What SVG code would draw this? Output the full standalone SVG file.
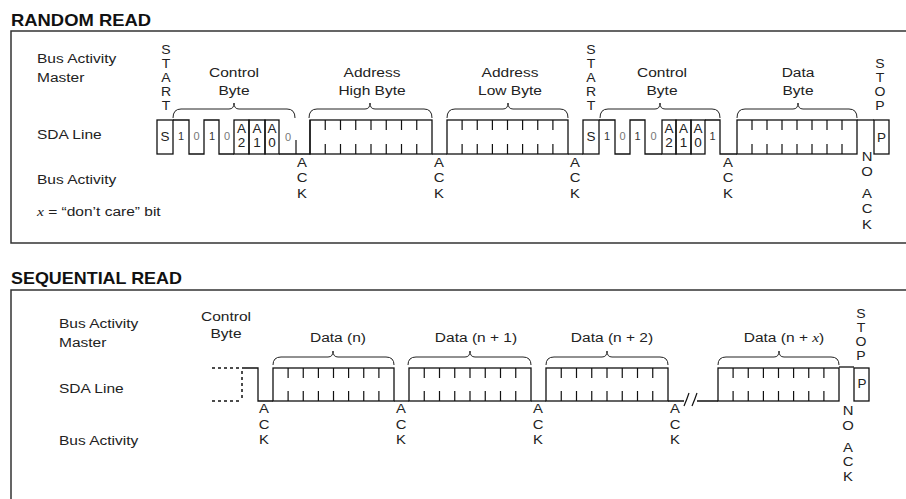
<svg xmlns="http://www.w3.org/2000/svg" width="906" height="499" viewBox="0 0 906 499">
<style>
.t{font-family:"Liberation Sans",Arial,sans-serif;font-size:13.5px;fill:#222}
.m{text-anchor:middle}
.v{font-size:12.2px}
.ttl{font-family:"Liberation Sans",Arial,sans-serif;font-size:16.3px;font-weight:bold;fill:#111}
.b{font-family:"Liberation Sans",Arial,sans-serif;font-size:11px;fill:#333;text-anchor:middle}
.z{fill:#777}
.sx{font-family:"Liberation Serif","Times New Roman",serif;font-style:italic}
.w{fill:none;stroke:#111;stroke-width:1.3}
.tk{fill:none;stroke:#111;stroke-width:1.2}
.fr{fill:none;stroke:#333;stroke-width:1.5}
.br{fill:none;stroke:#222;stroke-width:1}
.dot{fill:none;stroke:#111;stroke-width:1.5;stroke-dasharray:3 3}
</style>
<defs>
<path id="tkR" d="M0 120v10M0 144v10"/>
<path id="tkS" d="M0 368v10M0 391v10"/>
</defs>

<!-- ================= RANDOM READ ================= -->
<g id="random-read">
<text class="ttl" transform="translate(11 26) scale(1.13 1)">RANDOM READ</text>
<path class="fr" d="M912 31H11V243H912"/>

<g id="rr-labels">
<text class="t" transform="translate(37 63) scale(1.15 1)">Bus Activity</text>
<text class="t" transform="translate(37 82) scale(1.15 1)">Master</text>
<text class="t" transform="translate(37 139) scale(1.15 1)">SDA Line</text>
<text class="t" transform="translate(37 184) scale(1.15 1)">Bus Activity</text>
<text class="t" transform="translate(37 216) scale(1.15 1)"><tspan class="sx">x</tspan> = “don’t care” bit</text>
</g>

<g id="rr-top-labels">
<text class="t m" transform="translate(234 0) scale(1.15 1)"><tspan x="0" y="77">Control</tspan><tspan x="0" y="95">Byte</tspan></text>
<text class="t m" transform="translate(372 0) scale(1.15 1)"><tspan x="0" y="77">Address</tspan><tspan x="0" y="95">High Byte</tspan></text>
<text class="t m" transform="translate(510 0) scale(1.15 1)"><tspan x="0" y="77">Address</tspan><tspan x="0" y="95">Low Byte</tspan></text>
<text class="t m" transform="translate(662 0) scale(1.15 1)"><tspan x="0" y="77">Control</tspan><tspan x="0" y="95">Byte</tspan></text>
<text class="t m" transform="translate(798 0) scale(1.15 1)"><tspan x="0" y="77">Data</tspan><tspan x="0" y="95">Byte</tspan></text>
<text class="t m v" transform="translate(166 0) scale(1.15 1)"><tspan x="0" y="54">S</tspan><tspan x="0" y="68">T</tspan><tspan x="0" y="82">A</tspan><tspan x="0" y="96">R</tspan><tspan x="0" y="110">T</tspan></text>
<text class="t m v" transform="translate(591 0) scale(1.15 1)"><tspan x="0" y="54">S</tspan><tspan x="0" y="68">T</tspan><tspan x="0" y="82">A</tspan><tspan x="0" y="96">R</tspan><tspan x="0" y="110">T</tspan></text>
<text class="t m v" transform="translate(880 0) scale(1.15 1)"><tspan x="0" y="68">S</tspan><tspan x="0" y="82">T</tspan><tspan x="0" y="96">O</tspan><tspan x="0" y="110">P</tspan></text>
</g>

<g id="rr-braces">
<path class="br" d="M173 118Q173 109 181 109H229Q234 109 234 103Q234 109 239 109H287Q295 109 295 118"/>
<path class="br" d="M309 118Q309 109 317 109H365Q370 109 370 103Q370 109 375 109H424Q432 109 432 118"/>
<path class="br" d="M447 118Q447 109 455 109H503Q508 109 508 103Q508 109 513 109H560Q568 109 568 118"/>
<path class="br" d="M600 118Q600 109 608 109H655Q660 109 660 103Q660 109 665 109H712Q720 109 720 118"/>
<path class="br" d="M737 118Q737 109 745 109H793Q798 109 798 103Q798 109 803 109H849Q857 109 857 118"/>
</g>

<g id="rr-wave">
<rect class="w" x="157" y="120" width="16" height="34"/>
<path class="w" d="M173 120H189V154H204V120H219V154H234"/>
<rect class="w" x="234" y="120" width="15" height="34"/>
<rect class="w" x="249" y="120" width="16" height="34"/>
<rect class="w" x="265" y="120" width="14" height="34"/>
<path class="w" d="M279 154H310V120"/>
<path class="tk" d="M296 140V154"/>
<rect class="w" x="310" y="120" width="122" height="34"/>
<path class="w" d="M432 154H447"/>
<rect class="w" x="447" y="120" width="121" height="34"/>
<path class="w" d="M568 154H583"/>
<rect class="w" x="583" y="120" width="16" height="34"/>
<path class="w" d="M599 120H615V154H630V120H645V154H662"/>
<rect class="w" x="662" y="120" width="14" height="34"/>
<rect class="w" x="676" y="120" width="15" height="34"/>
<rect class="w" x="691" y="120" width="14" height="34"/>
<path class="w" d="M705 120H720V154H737"/>
<rect class="w" x="737" y="120" width="120" height="34"/>
<path class="w" d="M857 120H874"/>
<rect class="w" x="874" y="120" width="15" height="34"/>
<g class="tk">
<use href="#tkR" x="325.25"/><use href="#tkR" x="340.5"/><use href="#tkR" x="355.75"/><use href="#tkR" x="371"/><use href="#tkR" x="386.25"/><use href="#tkR" x="401.5"/><use href="#tkR" x="416.75"/>
<use href="#tkR" x="462.1"/><use href="#tkR" x="477.25"/><use href="#tkR" x="492.4"/><use href="#tkR" x="507.5"/><use href="#tkR" x="522.6"/><use href="#tkR" x="537.75"/><use href="#tkR" x="552.9"/>
<use href="#tkR" x="752"/><use href="#tkR" x="767"/><use href="#tkR" x="782"/><use href="#tkR" x="797"/><use href="#tkR" x="812"/><use href="#tkR" x="827"/><use href="#tkR" x="842"/>
</g>
</g>

<g id="rr-bits">
<text class="t m" x="165" y="141">S</text>
<text class="b" x="181" y="140">1</text>
<text class="b z" x="196.5" y="140">0</text>
<text class="b" x="212" y="140">1</text>
<text class="b z" x="227" y="140">0</text>
<text class="t m" x="241.5" y="133">A</text><text class="t m" x="241.5" y="147">2</text>
<text class="t m" x="257" y="133">A</text><text class="t m" x="257" y="147">1</text>
<text class="t m" x="272" y="133">A</text><text class="t m" x="272" y="147">0</text>
<text class="b z" x="288" y="141">0</text>
<text class="t m" x="591" y="141">S</text>
<text class="b" x="607" y="140">1</text>
<text class="b z" x="622.5" y="140">0</text>
<text class="b" x="637.5" y="140">1</text>
<text class="b z" x="653.5" y="140">0</text>
<text class="t m" x="669" y="133">A</text><text class="t m" x="669" y="147">2</text>
<text class="t m" x="683.5" y="133">A</text><text class="t m" x="683.5" y="147">1</text>
<text class="t m" x="698" y="133">A</text><text class="t m" x="698" y="147">0</text>
<text class="b" x="712.5" y="140">1</text>
<text class="t m" x="881.5" y="142">P</text>
</g>

<g id="rr-acks">
<text class="t m" transform="translate(302 0) scale(1.1 1)"><tspan x="0" y="167">A</tspan><tspan x="0" y="182.5">C</tspan><tspan x="0" y="198">K</tspan></text>
<text class="t m" transform="translate(439 0) scale(1.1 1)"><tspan x="0" y="167">A</tspan><tspan x="0" y="182.5">C</tspan><tspan x="0" y="198">K</tspan></text>
<text class="t m" transform="translate(575 0) scale(1.1 1)"><tspan x="0" y="167">A</tspan><tspan x="0" y="182.5">C</tspan><tspan x="0" y="198">K</tspan></text>
<text class="t m" transform="translate(728 0) scale(1.1 1)"><tspan x="0" y="167">A</tspan><tspan x="0" y="182.5">C</tspan><tspan x="0" y="198">K</tspan></text>
<text class="t m" transform="translate(867 0) scale(1.1 1)"><tspan x="0" y="161">N</tspan><tspan x="0" y="176">O</tspan><tspan x="0" y="198">A</tspan><tspan x="0" y="213">C</tspan><tspan x="0" y="229">K</tspan></text>
</g>
</g>

<!-- ================= SEQUENTIAL READ ================= -->
<g id="sequential-read">
<text class="ttl" transform="translate(11 284) scale(1.1 1)">SEQUENTIAL READ</text>
<path class="fr" d="M912 290H11V505"/>

<g id="sr-labels">
<text class="t" transform="translate(59 328) scale(1.15 1)">Bus Activity</text>
<text class="t" transform="translate(59 347) scale(1.15 1)">Master</text>
<text class="t" transform="translate(59 393) scale(1.15 1)">SDA Line</text>
<text class="t" transform="translate(59 445) scale(1.15 1)">Bus Activity</text>
</g>

<g id="sr-top-labels">
<text class="t m" transform="translate(226 0) scale(1.15 1)"><tspan x="0" y="321">Control</tspan><tspan x="0" y="338">Byte</tspan></text>
<text class="t m" transform="translate(338 342) scale(1.15 1)">Data (n)</text>
<text class="t m" transform="translate(476 342) scale(1.15 1)">Data (n + 1)</text>
<text class="t m" transform="translate(612 342) scale(1.15 1)">Data (n + 2)</text>
<text class="t m" transform="translate(784 342) scale(1.15 1)">Data (n + <tspan class="sx">x</tspan>)</text>
<text class="t m v" transform="translate(861 0) scale(1.15 1)"><tspan x="0" y="318">S</tspan><tspan x="0" y="332">T</tspan><tspan x="0" y="346">O</tspan><tspan x="0" y="360">P</tspan></text>
</g>

<g id="sr-braces">
<path class="br" d="M273 365Q273 357 281 357H328Q333 357 333 351Q333 357 338 357H386Q394 357 394 365"/>
<path class="br" d="M408 365Q408 357 416 357H465Q470 357 470 351Q470 357 475 357H523Q531 357 531 365"/>
<path class="br" d="M546 365Q546 357 554 357H602Q607 357 607 351Q607 357 612 357H660Q668 357 668 365"/>
<path class="br" d="M718 365Q718 357 726 357H774Q779 357 779 351Q779 357 784 357H831Q839 357 839 365"/>
</g>

<g id="sr-wave">
<path class="dot" d="M212 368H242M212 401H242M242 371V400"/>
<path class="w" d="M242 368H258V401H273"/>
<rect class="w" x="273" y="368" width="121" height="33"/>
<path class="w" d="M394 401H409"/>
<rect class="w" x="409" y="368" width="122" height="33"/>
<path class="w" d="M531 401H546"/>
<rect class="w" x="546" y="368" width="122" height="33"/>
<path class="w" d="M668 401H684M697 401H718"/>
<path class="tk" d="M684 406Q687 399 689 393M692 406Q695 399 697 393"/>
<rect class="w" x="718" y="368" width="121" height="33"/>
<path class="w" d="M839 367H854"/>
<rect class="w" x="854" y="368" width="15" height="33"/>
<g class="tk">
<use href="#tkS" x="288.1"/><use href="#tkS" x="303.25"/><use href="#tkS" x="318.4"/><use href="#tkS" x="333.5"/><use href="#tkS" x="348.6"/><use href="#tkS" x="363.75"/><use href="#tkS" x="378.9"/>
<use href="#tkS" x="424.25"/><use href="#tkS" x="439.5"/><use href="#tkS" x="454.75"/><use href="#tkS" x="470"/><use href="#tkS" x="485.25"/><use href="#tkS" x="500.5"/><use href="#tkS" x="515.75"/>
<use href="#tkS" x="561.25"/><use href="#tkS" x="576.5"/><use href="#tkS" x="591.75"/><use href="#tkS" x="607"/><use href="#tkS" x="622.25"/><use href="#tkS" x="637.5"/><use href="#tkS" x="652.75"/>
<use href="#tkS" x="733.1"/><use href="#tkS" x="748.25"/><use href="#tkS" x="763.4"/><use href="#tkS" x="778.5"/><use href="#tkS" x="793.6"/><use href="#tkS" x="808.75"/><use href="#tkS" x="823.9"/>
</g>
<text class="t m" x="862" y="388">P</text>
</g>

<g id="sr-acks">
<text class="t m" transform="translate(264 0) scale(1.1 1)"><tspan x="0" y="413">A</tspan><tspan x="0" y="429">C</tspan><tspan x="0" y="444">K</tspan></text>
<text class="t m" transform="translate(401 0) scale(1.1 1)"><tspan x="0" y="413">A</tspan><tspan x="0" y="429">C</tspan><tspan x="0" y="444">K</tspan></text>
<text class="t m" transform="translate(538 0) scale(1.1 1)"><tspan x="0" y="413">A</tspan><tspan x="0" y="429">C</tspan><tspan x="0" y="444">K</tspan></text>
<text class="t m" transform="translate(675 0) scale(1.1 1)"><tspan x="0" y="413">A</tspan><tspan x="0" y="429">C</tspan><tspan x="0" y="444">K</tspan></text>
<text class="t m" transform="translate(848 0) scale(1.1 1)"><tspan x="0" y="415">N</tspan><tspan x="0" y="430">O</tspan><tspan x="0" y="452">A</tspan><tspan x="0" y="466">C</tspan><tspan x="0" y="481">K</tspan></text>
</g>
</g>
</svg>
